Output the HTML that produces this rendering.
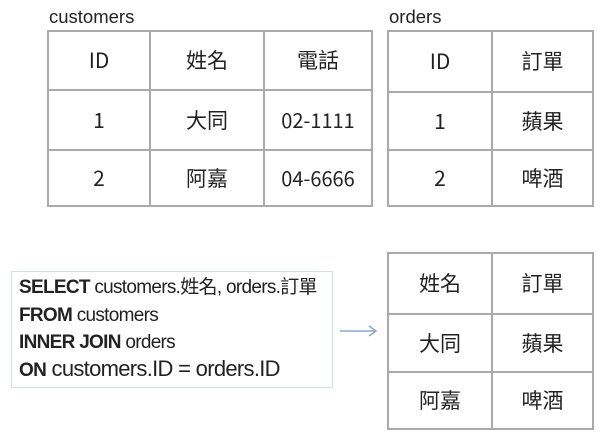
<!DOCTYPE html>
<html><head><meta charset="utf-8"><style>
body{margin:0;width:602px;height:437px;background:#fff;position:relative;overflow:hidden;font-family:"Liberation Sans","Noto Sans CJK TC",sans-serif;color:#222}
.t{position:absolute;border-collapse:collapse;border:2px solid #666;box-sizing:border-box}
.t td{border:2px solid #aaa;text-align:center;font-size:21px;padding:0;font-family:"Noto Sans CJK TC",sans-serif;line-height:1}
.lbl{position:absolute;font-size:18.5px}
.sql{position:absolute;left:11px;top:271px;width:322px;height:117px;border:1.5px solid #d3ddee;box-sizing:border-box}
.sql div{position:absolute;left:7px;white-space:nowrap;font-size:19px;letter-spacing:-0.7px;line-height:1}
b{font-weight:bold}
</style></head><body>
<div class="lbl" style="left:49px;top:6px">customers</div>
<div class="lbl" style="left:389px;top:6px">orders</div>
<table class="t" style="left:47px;top:30px;width:326px;height:177px">
<tr style="height:59px"><td style="width:100px">ID</td><td style="width:112px">姓名</td><td>電話</td></tr>
<tr style="height:60px"><td>1</td><td>大同</td><td style="font-size:20px">02-1111</td></tr>
<tr><td>2</td><td>阿嘉</td><td style="font-size:20px">04-6666</td></tr>
</table>
<table class="t" style="left:387px;top:30px;width:207px;height:177px">
<tr style="height:61px"><td style="width:102px">ID</td><td>訂單</td></tr>
<tr style="height:58px"><td>1</td><td>蘋果</td></tr>
<tr><td>2</td><td>啤酒</td></tr>
</table>
<table class="t" style="left:387px;top:252px;width:207px;height:178px">
<tr style="height:61px"><td style="width:102px">姓名</td><td>訂單</td></tr>
<tr style="height:58px"><td>大同</td><td>蘋果</td></tr>
<tr><td>阿嘉</td><td>啤酒</td></tr>
</table>
<div class="sql">
<div style="top:6px"><b>SELECT</b> customers.姓名, orders.訂單</div>
<div style="top:34px"><b>FROM</b> customers</div>
<div style="top:61px"><b>INNER JOIN</b> orders</div>
<div style="top:86px;font-size:22px"><b style="font-size:19px">ON</b> customers.ID = orders.ID</div>
</div>
<svg style="position:absolute;left:338px;top:323px" width="42" height="16">
<line x1="2" y1="8" x2="38" y2="8" stroke="#8aa6d4" stroke-width="1.5"/>
<polyline points="31,3 38,8 31,13" fill="none" stroke="#8aa6d4" stroke-width="1.5"/>
</svg>
</body></html>
